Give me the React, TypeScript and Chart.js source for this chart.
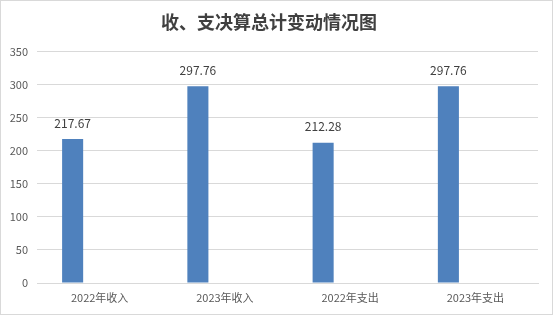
import React, { useEffect, useRef } from "react";
import { Chart, registerables } from "chart.js";

Chart.register(...registerables);

const categories = ["2022年收入", "2023年收入", "2022年支出", "2023年支出"];
const values = [217.67, 297.76, 212.28, 297.76];
const emptySeries = [null, null, null, null];
const yTicks = [0, 50, 100, 150, 200, 250, 300, 350];
const titleText = "收、支决算总计变动情况图";

const FONT = '"Noto Sans CJK SC", "Noto Sans", sans-serif';

const labelPlugin = {
  id: "barLabels",
  afterDatasetsDraw(chart: any) {
    const ctx = chart.ctx;
    const meta = chart.getDatasetMeta(0);
    ctx.save();
    ctx.font = `12px ${FONT}`;
    ctx.fillStyle = "#404040";
    ctx.textAlign = "center";
    ctx.textBaseline = "middle";
    meta.data.forEach((bar: any, i: number) => {
      const v = values[i];
      ctx.fillText(v.toFixed(2), bar.x, bar.y - 16);
    });
    ctx.restore();
  },
};

const borderPlugin = {
  id: "outerBorder",
  afterDraw(chart: any) {
    const ctx = chart.ctx;
    ctx.save();
    ctx.strokeStyle = "#d9d9d9";
    ctx.lineWidth = 1;
    ctx.strokeRect(0.5, 0.5, chart.width - 1, chart.height - 1);
    ctx.restore();
  },
};

export default function App() {
  const ref = useRef<HTMLCanvasElement>(null);
  useEffect(() => {
    document.body.style.margin = "0";
    const chart = new Chart(ref.current!, {
      type: "bar",
      data: {
        labels: categories,
        datasets: [
          {
            data: values,
            backgroundColor: "#4f81bd",
            categoryPercentage: 0.862,
            barPercentage: 0.39,
          },
          {
            data: emptySeries as any,
            backgroundColor: "#c0504d",
            categoryPercentage: 0.862,
            barPercentage: 0.39,
          },
        ],
      },
      options: {
        responsive: false,
        animation: false,
        layout: { padding: { left: 0, right: 15, top: 0, bottom: 0 } },
        plugins: {
          legend: { display: false },
          tooltip: { enabled: false },
          title: {
            display: true,
            text: titleText,
            color: "#404040",
            font: { family: FONT, size: 18, weight: "bold" },
            padding: { top: 11, bottom: 19 },
          },
        },
        scales: {
          x: {
            grid: { display: false, drawTicks: false },
            border: { display: true, color: "#d9d9d9" },
            ticks: {
              color: "#595959",
              font: { family: FONT, size: 11 },
              padding: 8,
            },
            afterFit(scale: any) {
              scale.height = 32;
            },
          },
          y: {
            min: 0,
            max: 350,
            afterBuildTicks(scale: any) {
              scale.ticks = yTicks.map((v) => ({ value: v }));
            },
            grid: { color: "#d9d9d9", drawTicks: false },
            border: { display: false },
            ticks: {
              color: "#595959",
              font: { family: FONT, size: 11 },
              padding: 9,
            },
            afterFit(scale: any) {
              scale.width = 37;
            },
          },
        },
      },
      plugins: [labelPlugin, borderPlugin],
    });
    return () => chart.destroy();
  }, []);
  return <canvas ref={ref} width={553} height={315} style={{ display: "block" }} />;
}
